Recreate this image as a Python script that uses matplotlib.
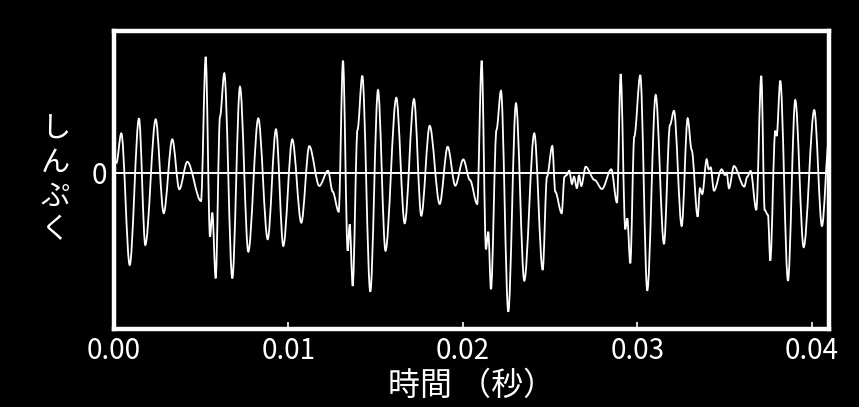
import numpy as np
import matplotlib
matplotlib.use("Agg")
import matplotlib.pyplot as plt
from matplotlib.path import Path
from matplotlib.patches import PathPatch

plt.rcParams['font.family'] = ['Noto Sans CJK JP', 'DejaVu Sans']

# turning points of the waveform: time in ms, amplitude (arbitrary units)
t_ms = [0.132, 0.419, 0.900, 1.433, 1.795, 2.391, 2.850, 3.343, 3.744, 4.203,
        4.989, 5.258, 5.505, 5.636, 5.831, 6.078, 6.325, 6.783, 7.225, 7.701,
        8.274, 8.813, 9.289, 9.708, 10.224, 10.740, 11.198, 11.772, 12.271, 12.540,
        12.884, 13.131, 13.400, 13.515, 13.687, 13.962, 14.237, 14.696, 15.138, 15.568,
        16.187, 16.669, 17.202, 17.620, 18.102, 18.675, 19.134, 19.570, 20.029, 20.413,
        20.826, 21.084, 21.330, 21.462, 21.617, 21.932, 22.190, 22.609, 23.050, 23.526,
        24.099, 24.581, 24.828, 25.132, 25.304, 25.671, 25.831, 25.958, 26.107, 26.261,
        26.376, 26.548, 26.663, 26.795, 27.047, 27.563, 27.982, 28.515, 28.842, 29.054,
        29.318, 29.433, 29.604, 29.834, 30.178, 30.579, 31.061, 31.537, 31.881, 32.110,
        32.552, 32.896, 33.125, 33.469, 33.601, 33.733, 33.985, 34.100, 34.214, 34.404,
        34.845, 35.034, 35.132, 35.264, 35.550, 36.141, 36.313, 36.508, 36.829, 37.116,
        37.311, 37.500, 37.632, 37.919, 37.999, 38.205, 38.647, 39.065, 39.547, 40.155,
        40.596, 40.998]
amp = [0.066, 0.280, -0.661, 0.387, -0.518, 0.380, -0.291, 0.237, -0.120, 0.077,
       -0.204, 0.827, -0.459, -0.287, -0.756, 0.399, 0.709, -0.756, 0.613, -0.566,
       0.387, -0.477, 0.309, -0.525, 0.237, -0.359, 0.189, -0.096, 0.013, -0.137,
       -0.280, 0.799, -0.559, -0.370, -0.811, 0.304, 0.691, -0.851, 0.589, -0.559,
       0.534, -0.363, 0.525, -0.309, 0.334, -0.225, 0.184, -0.094, 0.094, -0.054,
       -0.225, 0.799, -0.549, -0.423, -0.834, 0.304, 0.584, -0.994, 0.494, -0.773,
       0.280, -0.696, -0.030, 0.189, -0.137, -0.291, -0.030, -0.018, 0.013, -0.082,
       -0.030, -0.113, -0.018, -0.096, 0.041, -0.054, -0.118, 0.023, -0.216, 0.704,
       -0.406, -0.327, -0.649, 0.256, 0.696, -0.844, 0.554, -0.511, 0.339, 0.441,
       -0.382, 0.387, 0.161, -0.316, -0.113, -0.154, 0.094, 0.023, 0.037, -0.130,
       0.023, -0.018, -0.001, -0.113, 0.046, -0.101, -0.030, 0.011, -0.268, 0.691,
       -0.268, -0.304, -0.630, 0.299, 0.261, 0.656, -0.773, 0.518, -0.534, 0.446,
       -0.382, 0.232]

xticks = [0.00, 0.01, 0.02, 0.03, 0.04]

t = np.array(t_ms) / 1000.0
y = np.array(amp)

fig = plt.figure(figsize=(8.59, 4.07), dpi=100, facecolor='black')
ax = fig.add_axes([114 / 859, 1 - 329 / 407, 715 / 859, 298 / 407])
ax.set_facecolor('black')

# smooth curve through the turning points (flat tangent at each point)
verts = [(t[0], y[0])]
codes = [Path.MOVETO]
for i in range(len(t) - 1):
    dt = (t[i + 1] - t[i]) / 3
    verts += [(t[i] + dt, y[i]), (t[i + 1] - dt, y[i + 1]), (t[i + 1], y[i + 1])]
    codes += [Path.CURVE4] * 3
ax.add_patch(PathPatch(Path(verts, codes), fill=False, edgecolor='white', lw=1.3))

ax.axhline(0, color='white', lw=1.4)

ax.set_xlim(0, 0.041)
ax.set_ylim(-1.118, 1.011)

ax.set_xticks(xticks)
ax.set_xticklabels(['%.2f' % v for v in xticks])
ax.set_yticks([0])
ax.set_yticklabels(['0'])
ax.tick_params(axis='both', direction='in', colors='white', labelcolor='white',
               labelsize=20, length=5, width=1.2, pad=5)
for s in ax.spines.values():
    s.set_color('white')
    s.set_linewidth(3.2)

ax.set_xlabel('時間 （秒）', color='white', fontsize=23, labelpad=3)
ax.set_ylabel('し\nん\nぷ\nく', color='white', fontsize=21, rotation=0,
              linespacing=1.15, va='center', ha='center')
ax.yaxis.set_label_coords(-0.082, 0.5)

fig.savefig('out.png', dpi=100, facecolor='black')
